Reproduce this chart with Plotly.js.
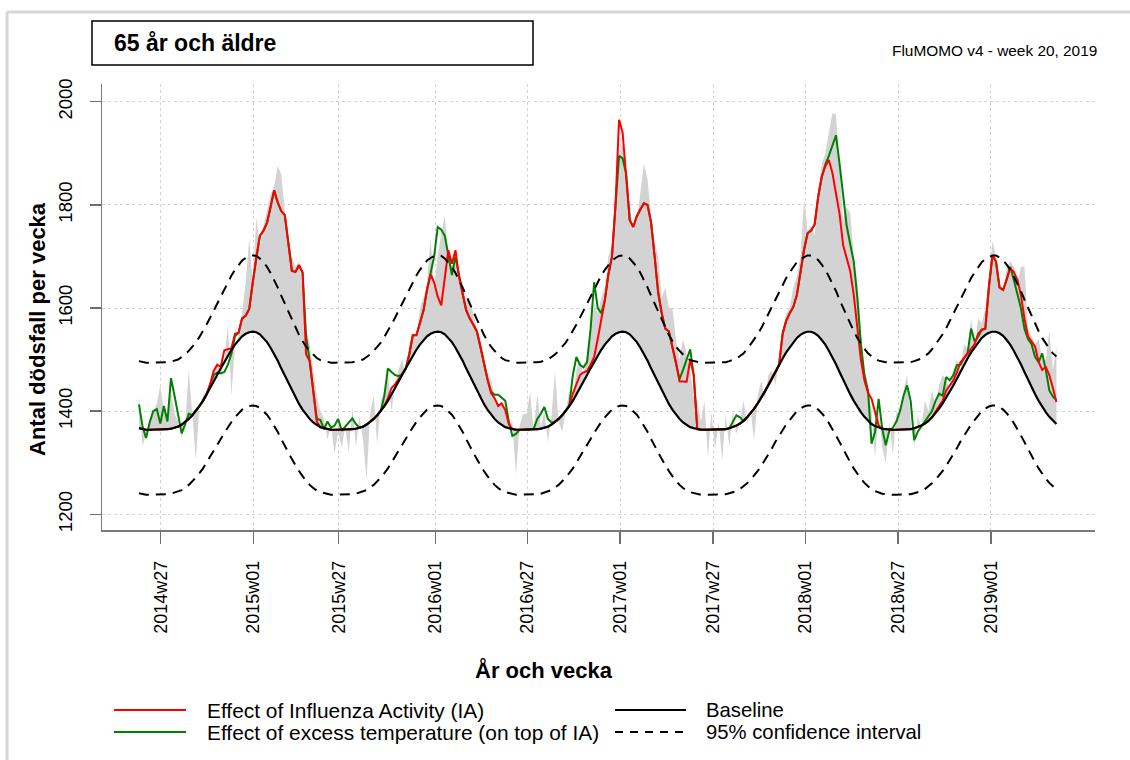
<!DOCTYPE html>
<html><head><meta charset="utf-8">
<script src="https://cdn.plot.ly/plotly-3.0.1.min.js"></script>
<style>html,body{margin:0;padding:0;background:#fff;}#chart{width:1130px;height:760px;}</style>
</head><body><div id="chart"></div>
<script>
// Week tick labels (ISO year + week)
const tickLabels = ['2014w27','2015w01','2015w27','2016w01','2016w27','2017w01','2017w27','2018w01','2018w27','2019w01'];

// Observed weekly deaths (grey area edge), 2014w21 .. 2019w19
const observed = [
1430,1332,1355,1385,1395,1415,1450,1400,1395,1440,
1395,1380,1350,1375,1480,1400,1305,1410,1430,1440,
1440,1480,1492,1470,1495,1570,1430,1530,1545,1590,
1650,1735,1650,1775,1720,1760,1790,1820,1835,1875,
1860,1790,1740,1700,1680,1690,1640,1560,1530,1480,
1430,1400,1385,1345,1372,1318,1360,1330,1370,1320,
1408,1330,1390,1345,1266,1395,1430,1335,1420,1440,
1478,1400,1450,1480,1500,1470,1530,1550,1540,1600,
1620,1650,1735,1640,1700,1745,1778,1700,1680,1700,
1670,1650,1610,1620,1590,1560,1540,1510,1475,1460,
1430,1410,1420,1395,1370,1380,1276,1370,1395,1395,
1437,1360,1434,1370,1400,1340,1390,1478,1380,1360,
1400,1440,1420,1480,1500,1470,1510,1560,1610,1590,
1620,1640,1700,1720,1830,1900,1920,1850,1800,1750,
1770,1830,1880,1850,1780,1730,1700,1620,1640,1600,
1600,1540,1500,1540,1510,1480,1430,1420,1380,1420,
1310,1400,1325,1380,1305,1395,1330,1400,1356,1380,
1420,1375,1400,1344,1430,1460,1420,1470,1480,1450,
1500,1560,1590,1600,1640,1660,1700,1810,1750,1760,
1740,1830,1880,1900,1940,1978,1975,1880,1770,1795,
1785,1700,1650,1560,1480,1450,1400,1310,1400,1330,
1300,1380,1315,1400,1390,1440,1470,1380,1330,1390,
1370,1420,1400,1440,1410,1450,1470,1460,1440,1480,
1500,1480,1530,1520,1580,1520,1580,1570,1600,1660,
1730,1700,1640,1630,1680,1690,1680,1650,1680,1680,
1560,1545,1530,1540,1500,1500,1555,1480,1525];

// Effect of Influenza Activity (baseline + IA)
const influenza = [
1367,1365,1364,1364,1364,1364,1364,1364,1365,1366,
1368,1370,1374,1379,1385,1392,1400,1410,1420,1432,
1452,1478,1490,1486,1518,1520,1522,1550,1552,1580,
1585,1598,1650,1700,1740,1750,1765,1795,1828,1805,
1788,1780,1722,1672,1670,1683,1670,1510,1497,1440,
1380,1369,1367,1365,1364,1364,1364,1364,1364,1364,
1365,1366,1368,1370,1374,1379,1385,1392,1400,1410,
1425,1445,1452,1462,1472,1482,1510,1547,1547,1570,
1595,1635,1665,1650,1622,1605,1660,1712,1686,1712,
1660,1628,1596,1580,1568,1555,1525,1490,1462,1435,
1425,1410,1415,1402,1375,1365,1364,1364,1364,1364,
1364,1364,1365,1366,1368,1370,1374,1379,1385,1392,
1400,1410,1434,1452,1470,1475,1478,1490,1505,1540,
1576,1615,1665,1699,1800,1965,1940,1860,1770,1757,
1778,1792,1803,1800,1766,1700,1630,1590,1560,1555,
1525,1495,1458,1457,1457,1500,1470,1365,1364,1364,
1364,1364,1364,1364,1364,1365,1367,1369,1372,1376,
1381,1388,1396,1405,1415,1426,1438,1452,1465,1478,
1490,1550,1575,1590,1602,1625,1670,1712,1745,1750,
1762,1816,1854,1875,1887,1862,1822,1783,1722,1695,
1672,1625,1560,1500,1460,1436,1424,1398,1372,1366,
1365,1364,1364,1364,1364,1364,1364,1365,1367,1369,
1372,1376,1381,1388,1400,1410,1420,1440,1450,1460,
1475,1495,1503,1512,1520,1530,1550,1558,1560,1640,
1702,1690,1640,1635,1655,1677,1670,1655,1625,1580,
1545,1535,1525,1495,1480,1486,1470,1445,1418];

// Effect of excess temperature (on top of IA)
const temperature = [
1413,1370,1348,1378,1400,1404,1376,1410,1380,1464,
1430,1392,1357,1375,1395,1392,1400,1410,1420,1432,
1452,1470,1475,1473,1476,1490,1512,1545,1552,1580,
1585,1598,1650,1700,1740,1750,1765,1795,1828,1805,
1788,1780,1722,1672,1670,1683,1668,1545,1497,1440,
1385,1383,1365,1380,1368,1372,1385,1362,1370,1378,
1386,1375,1368,1370,1374,1379,1385,1392,1400,1430,
1483,1476,1470,1468,1472,1482,1510,1547,1547,1570,
1595,1635,1665,1700,1757,1752,1740,1700,1664,1700,
1660,1628,1596,1580,1568,1555,1525,1490,1462,1438,
1432,1432,1425,1420,1380,1352,1356,1364,1364,1365,
1364,1366,1385,1395,1408,1385,1378,1379,1385,1392,
1400,1410,1470,1505,1490,1485,1495,1560,1650,1600,
1590,1615,1665,1699,1800,1895,1890,1860,1770,1757,
1778,1792,1803,1800,1766,1700,1630,1590,1560,1555,
1525,1495,1462,1480,1500,1520,1470,1365,1364,1364,
1364,1364,1364,1364,1364,1365,1367,1380,1392,1388,
1381,1388,1396,1405,1415,1426,1438,1452,1465,1478,
1490,1550,1575,1590,1602,1625,1670,1712,1745,1750,
1762,1816,1854,1878,1895,1915,1935,1880,1818,1760,
1724,1690,1620,1530,1470,1440,1337,1360,1424,1366,
1334,1362,1368,1380,1400,1430,1450,1420,1344,1360,
1370,1380,1390,1400,1420,1434,1430,1466,1460,1470,
1489,1490,1503,1512,1560,1535,1545,1558,1560,1640,
1702,1690,1640,1635,1655,1680,1655,1630,1600,1560,
1540,1530,1505,1495,1512,1480,1440,1428,1421];

// Baseline
const baseline = [
1367,1365,1364,1364,1364,1364,1364,1364,1365,1366,
1368,1370,1374,1379,1385,1392,1400,1410,1420,1432,
1444,1457,1470,1483,1496,1508,1519,1529,1538,1545,
1550,1553,1554,1553,1549,1542,1534,1523,1511,1498,
1483,1469,1454,1440,1426,1414,1403,1393,1385,1378,
1373,1369,1367,1365,1364,1364,1364,1364,1364,1364,
1365,1366,1368,1370,1374,1379,1385,1392,1400,1410,
1420,1432,1444,1457,1470,1483,1496,1508,1519,1529,
1538,1545,1550,1553,1554,1553,1549,1542,1534,1523,
1511,1498,1483,1469,1454,1440,1426,1414,1403,1393,
1385,1378,1373,1369,1367,1365,1364,1364,1364,1364,
1364,1364,1365,1366,1368,1370,1374,1379,1385,1392,
1400,1410,1420,1432,1444,1457,1470,1483,1496,1508,
1519,1529,1538,1545,1550,1553,1554,1553,1549,1542,
1534,1523,1511,1498,1483,1469,1454,1440,1426,1414,
1403,1393,1385,1378,1373,1369,1367,1365,1364,1364,
1364,1364,1364,1364,1364,1365,1367,1369,1372,1376,
1381,1388,1396,1405,1415,1426,1438,1450,1463,1477,
1490,1502,1514,1524,1534,1542,1548,1552,1554,1554,
1551,1546,1538,1529,1517,1505,1491,1476,1461,1447,
1433,1420,1408,1398,1389,1381,1375,1371,1368,1366,
1365,1364,1364,1364,1364,1364,1364,1365,1367,1369,
1372,1376,1381,1388,1396,1405,1415,1426,1438,1450,
1463,1477,1490,1502,1514,1524,1534,1542,1548,1552,
1554,1554,1551,1546,1538,1529,1517,1505,1491,1476,
1461,1447,1433,1420,1408,1398,1389,1381,1375];

// 95% confidence interval, upper bound
const upperCI = [
1497,1495,1494,1494,1494,1494,1494,1494,1495,1496,
1498,1500,1505,1510,1517,1524,1533,1544,1555,1568,
1581,1595,1610,1624,1638,1651,1663,1674,1684,1692,
1697,1701,1702,1701,1696,1689,1680,1668,1655,1640,
1624,1609,1592,1577,1561,1548,1536,1525,1517,1509,
1503,1499,1497,1495,1494,1494,1494,1494,1494,1494,
1495,1496,1498,1500,1505,1510,1517,1524,1533,1544,
1555,1568,1581,1595,1610,1624,1638,1651,1663,1674,
1684,1692,1697,1701,1702,1701,1696,1689,1680,1668,
1655,1640,1624,1609,1592,1577,1561,1548,1536,1525,
1517,1509,1503,1499,1497,1495,1494,1494,1494,1494,
1494,1494,1495,1496,1498,1500,1505,1510,1517,1524,
1533,1544,1555,1568,1581,1595,1610,1624,1638,1651,
1663,1674,1684,1692,1697,1701,1702,1701,1696,1689,
1680,1668,1655,1640,1624,1609,1592,1577,1561,1548,
1536,1525,1517,1509,1503,1499,1497,1495,1494,1494,
1494,1494,1494,1494,1494,1495,1497,1499,1502,1507,
1512,1520,1529,1539,1549,1561,1575,1588,1602,1617,
1632,1645,1658,1669,1680,1689,1695,1699,1702,1702,
1698,1693,1684,1674,1661,1648,1633,1616,1600,1584,
1569,1555,1542,1531,1521,1512,1506,1501,1498,1496,
1495,1494,1494,1494,1494,1494,1494,1495,1497,1499,
1502,1507,1512,1520,1529,1539,1549,1561,1575,1588,
1602,1617,1632,1645,1658,1669,1680,1689,1695,1699,
1702,1702,1698,1693,1684,1674,1661,1648,1633,1616,
1600,1584,1569,1555,1542,1531,1521,1512,1506];

// 95% confidence interval, lower bound
const lowerCI = [
1241,1239,1238,1238,1238,1238,1238,1238,1239,1240,
1242,1244,1247,1252,1257,1264,1271,1280,1289,1300,
1311,1323,1334,1346,1358,1369,1379,1388,1396,1403,
1407,1410,1411,1410,1406,1400,1393,1383,1372,1360,
1346,1334,1320,1307,1294,1284,1274,1265,1257,1251,
1246,1243,1241,1239,1238,1238,1238,1238,1238,1238,
1239,1240,1242,1244,1247,1252,1257,1264,1271,1280,
1289,1300,1311,1323,1334,1346,1358,1369,1379,1388,
1396,1403,1407,1410,1411,1410,1406,1400,1393,1383,
1372,1360,1346,1334,1320,1307,1294,1284,1274,1265,
1257,1251,1246,1243,1241,1239,1238,1238,1238,1238,
1238,1238,1239,1240,1242,1244,1247,1252,1257,1264,
1271,1280,1289,1300,1311,1323,1334,1346,1358,1369,
1379,1388,1396,1403,1407,1410,1411,1410,1406,1400,
1393,1383,1372,1360,1346,1334,1320,1307,1294,1284,
1274,1265,1257,1251,1246,1243,1241,1239,1238,1238,
1238,1238,1238,1238,1238,1239,1241,1243,1245,1249,
1254,1260,1267,1275,1284,1294,1305,1316,1328,1341,
1353,1363,1374,1383,1393,1400,1405,1409,1411,1411,
1408,1403,1396,1388,1377,1366,1353,1340,1326,1314,
1301,1289,1278,1269,1261,1254,1248,1245,1242,1240,
1239,1238,1238,1238,1238,1238,1238,1239,1241,1243,
1245,1249,1254,1260,1267,1275,1284,1294,1305,1316,
1328,1341,1353,1363,1374,1383,1393,1400,1405,1409,
1411,1411,1408,1403,1396,1388,1377,1366,1353,1340,
1326,1314,1301,1289,1278,1269,1261,1254,1248];

// ---- chart configuration ----
const tickPositions = [6.1, 32.17, 56.16, 83.33, 109.2, 135.27, 161.42, 187.4, 213.47, 239.54];
const weekIndex = baseline.map((_, i) => i);
const FONT = 'Arial, "Liberation Sans", sans-serif';

const traces = [
  {x: weekIndex, y: baseline, mode: 'lines', line: {width: 0, color: 'rgba(0,0,0,0)'}, hoverinfo: 'skip', showlegend: false},
  {x: weekIndex, y: observed, mode: 'lines', fill: 'tonexty', fillcolor: 'rgb(211,211,211)', line: {width: 0, color: 'rgba(0,0,0,0)'}, name: 'Observerat', showlegend: false},
  {x: weekIndex, y: temperature, mode: 'lines', line: {color: 'rgb(0,128,0)', width: 2}, name: 'Effect of excess temperature (on top of IA)', showlegend: false},
  {x: weekIndex, y: influenza, mode: 'lines', line: {color: '#ff0000', width: 2}, name: 'Effect of Influenza Activity (IA)', showlegend: false},
  {x: weekIndex, y: baseline, mode: 'lines', line: {color: '#000', width: 2.2}, name: 'Baseline', showlegend: false},
  {x: weekIndex, y: upperCI, mode: 'lines', line: {color: '#000', width: 2, dash: '10px,7px'}, name: '95% confidence interval', showlegend: false},
  {x: weekIndex, y: lowerCI, mode: 'lines', line: {color: '#000', width: 2, dash: '10px,7px'}, name: '95% confidence interval (lower)', showlegend: false}
];

// pixel -> paper helpers for decorations outside the plot area
const L = 102, R = 1095, T = 84, B = 530;
const px = v => (v - L) / (R - L);
const py = v => (B - v) / (B - T);

const shapes = [
  // page frame
  {type: 'line', xref: 'paper', yref: 'paper', x0: px(7), x1: px(7), y0: py(12), y1: py(760), line: {color: '#d6d6d6', width: 3}},
  {type: 'line', xref: 'paper', yref: 'paper', x0: px(7), x1: px(1130), y0: py(12), y1: py(12), line: {color: '#d6d6d6', width: 3}},
  // label box
  {type: 'rect', xref: 'paper', yref: 'paper', x0: px(92), x1: px(533), y0: py(65), y1: py(21), line: {color: '#000', width: 1.5}},
  // legend symbols
  {type: 'line', xref: 'paper', yref: 'paper', x0: px(114), x1: px(186), y0: py(710), y1: py(710), line: {color: '#ff0000', width: 2}},
  {type: 'line', xref: 'paper', yref: 'paper', x0: px(114), x1: px(186), y0: py(732), y1: py(732), line: {color: 'rgb(0,128,0)', width: 2}},
  {type: 'line', xref: 'paper', yref: 'paper', x0: px(615), x1: px(686), y0: py(710), y1: py(710), line: {color: '#000', width: 2}},
  {type: 'line', xref: 'paper', yref: 'paper', x0: px(615), x1: px(686), y0: py(732), y1: py(732), line: {color: '#000', width: 2, dash: '8px,7px'}}
];

const ann = (text, x, y, size, opts) => Object.assign({text, xref: 'paper', yref: 'paper', x: px(x), y: py(y), showarrow: false, font: {family: FONT, size: size, color: '#000'}}, opts || {});

const annotations = [
  ann('<b>65 år och äldre</b>', 112, 43, 23, {xanchor: 'left', yanchor: 'middle'}),
  ann('FluMOMO v4 - week 20, 2019', 1099, 50, 15.4, {xanchor: 'right', yanchor: 'middle'}),
  ann('<b>Antal dödsfall per vecka</b>', 37, 329, 22, {xanchor: 'center', yanchor: 'middle', textangle: -90}),
  ann('<b>År och vecka</b>', 544, 670, 22, {xanchor: 'center', yanchor: 'middle'}),
  ann('Effect of Influenza Activity (IA)', 205, 710, 20.9, {xanchor: 'left', yanchor: 'middle'}),
  ann('Effect of excess temperature (on top of IA)', 205, 732, 20.9, {xanchor: 'left', yanchor: 'middle'}),
  ann('Baseline', 704, 710, 20.3, {xanchor: 'left', yanchor: 'middle'}),
  ann('95% confidence interval', 704, 732, 20.3, {xanchor: 'left', yanchor: 'middle'})
];

const layout = {
  width: 1130, height: 760,
  margin: {l: L, r: 1130 - R, t: T, b: 760 - B, pad: 0},
  paper_bgcolor: '#fff', plot_bgcolor: '#fff',
  showlegend: false,
  font: {family: FONT, color: '#000'},
  xaxis: {
    range: [-10.4, 268.84], tickmode: 'array', tickvals: tickPositions, ticktext: tickLabels,
    tickangle: -90, ticks: 'outside', ticklen: 12, tickwidth: 1.5, tickcolor: '#6e6e6e',
    ticklabelstandoff: 10,
    showline: true, linecolor: '#7a7a7a', linewidth: 1.5,
    showgrid: true, gridcolor: '#d4d4d4', griddash: 'dot', gridwidth: 1,
    zeroline: false, tickfont: {family: FONT, size: 18, color: '#000'}, fixedrange: true
  },
  yaxis: {
    range: [1169.6, 2034.3], tickmode: 'array', tickvals: [1200, 1400, 1600, 1800, 2000],
    tickangle: -90, ticks: 'outside', ticklen: 11, tickwidth: 1.5, tickcolor: '#6e6e6e',
    ticklabelstandoff: 10,
    showline: true, linecolor: '#7a7a7a', linewidth: 1.5,
    showgrid: true, gridcolor: '#d4d4d4', griddash: 'dot', gridwidth: 1,
    zeroline: false, tickfont: {family: FONT, size: 18.5, color: '#000'}, fixedrange: true
  },
  shapes, annotations
};

Plotly.newPlot('chart', traces, layout, {staticPlot: true, displayModeBar: false});
</script>
</body></html>
